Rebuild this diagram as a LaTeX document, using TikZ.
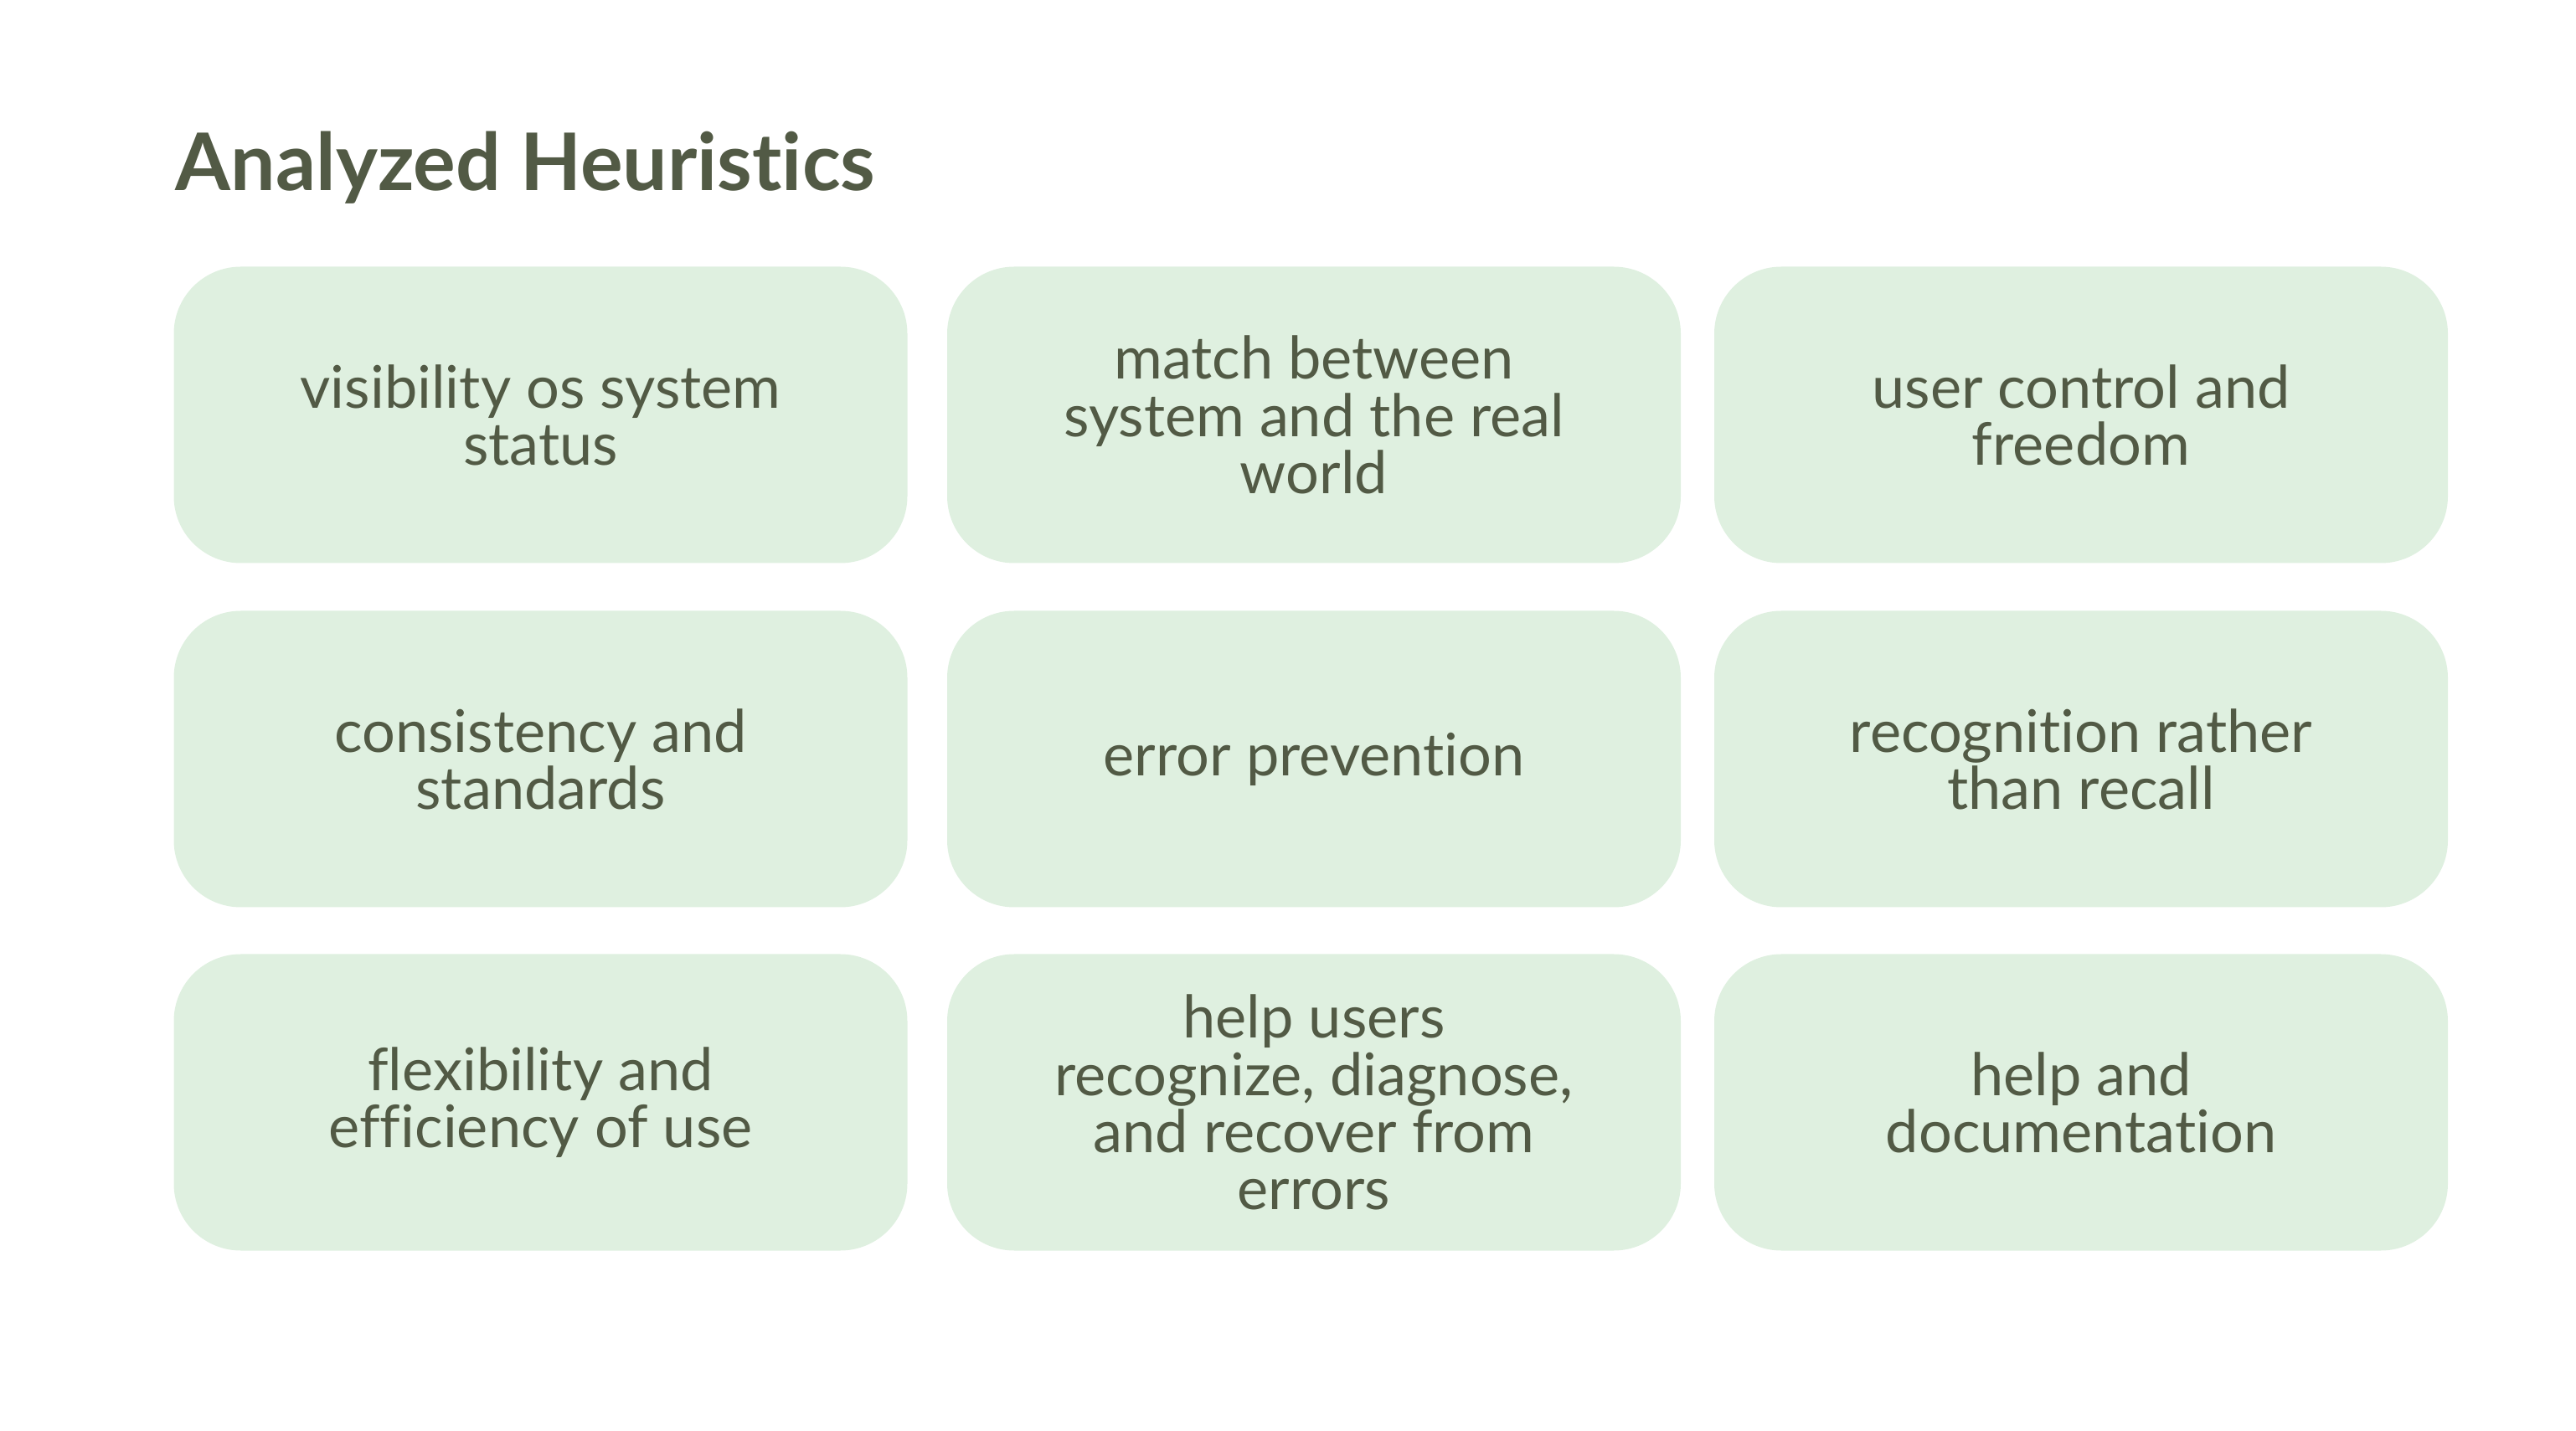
\documentclass[tikz,border=0pt]{standalone}
\usepackage{fontspec}
\setmainfont{Lato}[Ligatures={NoCommon}]
\usepackage{tikz}
\usetikzlibrary{shapes,positioning}

\definecolor{boxgreen}{HTML}{DFF0E0}
\definecolor{textolive}{HTML}{525A45}

\tikzset{
	heurbox/.style={rectangle, rounded corners=0.8cm, fill=boxgreen, draw=none,
		minimum width=8.76cm, minimum height=3.54cm, align=center, text=textolive,
		font=\fontsize{20}{19.4}\selectfont},
	heurtitle/.style={anchor=base west, text=textolive, inner sep=0pt,
		font=\bfseries\fontsize{27}{32}\selectfont}
}

\begin{document}
\begin{tikzpicture}
	\useasboundingbox (0,0) rectangle (30.76,17.08);
	
	\node[heurtitle] (title) at (2.09,14.8) {Analyzed Heuristics};
	
	\node[heurbox] (vis) at (6.455,12.125) {visibility os system\\status};
	\node[heurbox] (match) at (15.69,12.125) {match between\\system and the real\\world};
	\node[heurbox] (ctrl) at (24.85,12.125) {user control and\\freedom};
	
	\node[heurbox] (cons) at (6.455,8.015) {consistency and\\standards};
	\node[heurbox] (err) at (15.69,8.015) {error prevention};
	\node[heurbox] (recog) at (24.85,8.015) {recognition rather\\than recall};
	
	\node[heurbox] (flex) at (6.455,3.915) {flexibility and\\efficiency of use};
	\node[heurbox] (help) at (15.69,3.915) {help users\\recognize, diagnose,\\and recover from\\errors};
	\node[heurbox] (doc) at (24.85,3.915) {help and\\documentation};
\end{tikzpicture}
\end{document}
